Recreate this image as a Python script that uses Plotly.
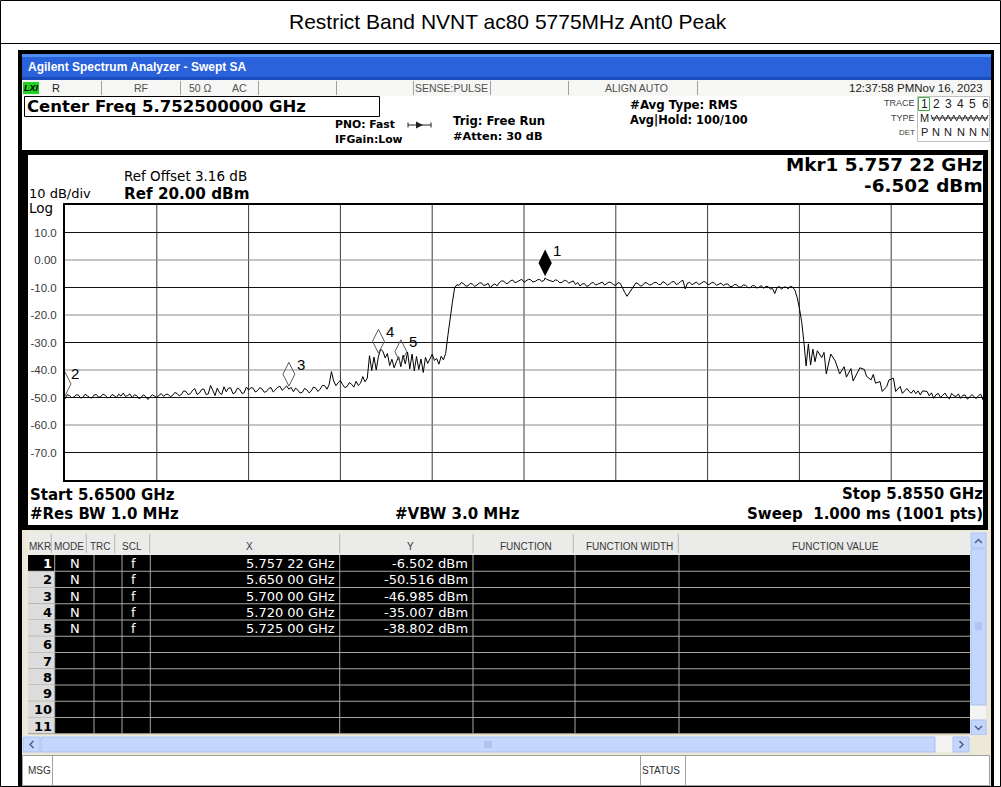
import plotly.graph_objects as go

W, H = 1001, 787

# ---------------- sweep settings ----------------
start_mhz, stop_mhz = 5650.0, 5855.0
ref_level_dbm = 20.0
db_per_div = 10.0
n_div = 10

y_tick_vals = [10, 0, -10, -20, -30, -40, -50, -60, -70]
y_tick_text = ["10.0", "0.00", "-10.0", "-20.0", "-30.0", "-40.0", "-50.0", "-60.0", "-70.0"]

# ---------------- trace 1 (frequency in MHz, level in dBm) ----------------
trace_freq_mhz = [
    5650, 5651, 5652, 5653, 5654, 5655, 5656, 5657, 5658, 5659,
    5660, 5661, 5662, 5663, 5664, 5665, 5666, 5667, 5668, 5668.5,
    5669, 5670, 5671, 5672, 5673, 5674, 5675, 5676, 5677, 5678,
    5679, 5680, 5681, 5682, 5682.5, 5683, 5683.5, 5684, 5685, 5685.5,
    5686, 5687, 5688, 5689, 5690, 5691, 5692, 5693, 5694, 5695,
    5696, 5697, 5698, 5699, 5700, 5701, 5702, 5703, 5704, 5705,
    5706, 5707, 5708, 5709, 5709.5, 5710, 5711, 5712, 5713, 5714,
    5715, 5716, 5716.5, 5717, 5717.5, 5718, 5718.5, 5719, 5719.5, 5720,
    5720.5, 5721, 5721.5, 5722, 5722.5, 5723, 5723.5, 5724, 5724.5, 5725,
    5725.5, 5726, 5726.5, 5727, 5727.5, 5728, 5728.5, 5729, 5729.5, 5730,
    5730.5, 5731, 5731.5, 5732, 5732.5, 5733, 5733.5, 5734, 5734.5, 5735,
    5735.5, 5736, 5736.5, 5737, 5737.5, 5738, 5739, 5740, 5741, 5742,
    5743, 5744, 5745, 5746, 5747, 5748, 5749, 5750, 5751, 5752,
    5753, 5754, 5755, 5756, 5757, 5757.22, 5758, 5759, 5760, 5761,
    5762, 5763, 5764, 5765, 5766, 5767, 5768, 5769, 5770, 5771,
    5772, 5773, 5774, 5774.5, 5775, 5775.5, 5776, 5776.5, 5777, 5778,
    5779, 5780, 5781, 5782, 5783, 5784, 5785, 5786, 5787, 5788,
    5788.5, 5789, 5790, 5791, 5792, 5793, 5794, 5795, 5796, 5797,
    5798, 5799, 5800, 5801, 5802, 5803, 5804, 5805, 5806, 5807,
    5808, 5808.5, 5809, 5810, 5811, 5812, 5812.5, 5813, 5813.5, 5814,
    5814.5, 5815, 5815.5, 5816, 5816.5, 5817, 5817.5, 5818, 5819, 5819.5,
    5820, 5821, 5821.5, 5822, 5823, 5824, 5824.5, 5825.5, 5826, 5827,
    5827.5, 5828.5, 5829, 5830, 5830.5, 5831, 5832, 5832.5, 5833.5, 5834,
    5835, 5835.5, 5836.5, 5837, 5838, 5838.5, 5839.5, 5840, 5841, 5841.5,
    5842.5, 5843, 5844, 5845, 5846, 5847, 5848, 5849, 5850, 5851,
    5852, 5853, 5854, 5855,
]
trace_level_dbm = [
    -50.5, -49.3, -49.8, -49.1, -49.9, -49.4, -50.2, -48.9, -49.6, -49.2,
    -50.0, -49.4, -48.8, -48.4, -49.3, -50.1, -49.3, -50.0, -49.6, -50.7,
    -49.8, -49.5, -49.2, -49.6, -48.8, -49.3, -48.5, -48.9, -47.8, -48.6,
    -46.8, -48.4, -46.9, -48.7, -45.6, -47.4, -49.3, -46.6, -48.9, -46.1,
    -47.9, -46.5, -48.2, -47.0, -48.3, -47.3, -46.6, -47.5, -46.9, -47.8,
    -46.4, -47.2, -45.9, -46.6, -46.985, -47.9, -47.3, -48.1, -47.2, -47.6,
    -46.6, -46.9, -45.7, -45.2, -40.6, -44.0, -44.6, -45.3, -46.0, -45.2,
    -44.1, -44.8, -42.4, -44.3, -43.0, -34.8, -40.2, -35.3, -40.0, -35.007,
    -32.4, -33.2, -35.6, -34.0, -38.4, -36.1, -39.2, -37.0, -35.2, -38.802,
    -34.6, -37.8, -33.5, -39.6, -34.2, -40.3, -35.1, -39.8, -36.0, -40.9,
    -35.4, -37.6, -36.2, -34.3, -36.5, -35.8, -37.9, -35.0, -36.3, -34.0,
    -27.5, -21.0, -15.5, -10.2, -9.0, -9.2, -8.6, -9.4, -8.8, -9.1,
    -8.3, -9.0, -10.2, -8.7, -8.2, -7.7, -8.4, -7.3, -7.9, -7.0,
    -7.7, -7.2, -7.8, -7.1, -7.4, -6.502, -7.3, -7.9, -7.5, -8.1,
    -7.6, -8.0, -8.9, -9.5, -8.6, -9.3, -8.2, -8.8, -8.0, -8.7,
    -8.3, -9.2, -8.5, -10.5, -11.8, -13.2, -12.0, -10.4, -9.3, -8.6,
    -9.2, -8.4, -8.9, -8.1, -9.0, -8.3, -8.7, -7.8, -8.6, -7.4,
    -10.5, -8.4, -9.0, -8.0, -8.6, -7.9, -8.8, -8.4, -8.9, -9.3,
    -8.7, -9.6, -9.0, -9.8, -9.2, -10.1, -9.4, -9.9, -10.3, -9.7,
    -10.4, -12.2, -10.1, -10.6, -9.8, -9.5, -9.9, -11.0, -13.6, -17.5,
    -22.4, -29.7, -38.5, -30.5, -38.2, -32.4, -37.0, -33.0, -35.5, -33.6,
    -41.4, -34.2, -35.5, -36.7, -41.4, -38.8, -42.6, -39.5, -44.0, -41.0,
    -39.2, -39.8, -42.3, -43.6, -41.6, -44.8, -44.2, -47.8, -46.0, -43.6,
    -43.0, -47.8, -46.0, -48.5, -46.7, -47.8, -47.3, -48.6, -49.1, -47.6,
    -47.8, -49.4, -50.3, -48.5, -49.2, -49.7, -48.5, -49.6, -50.3, -49.1,
    -49.9, -49.7, -49.3, -50.9,
]

# finer readings between the whole-MHz points (noise floor, flat top, upper tail)
half_step_freq_mhz = [
    5650.5, 5651.5, 5652.5, 5653.5, 5654.5, 5655.5, 5656.5, 5657.5, 5658.5, 5659.5,
    5660.5, 5661.5, 5662.5, 5663.5, 5664.5, 5665.5, 5666.5, 5667.5, 5669.5, 5670.5,
    5671.5, 5672.5, 5673.5, 5674.5, 5675.5, 5676.5, 5677.5, 5678.5, 5679.5, 5680.5,
    5681.5, 5684.5, 5686.5, 5687.5, 5688.5, 5689.5, 5690.5, 5691.5, 5692.5, 5693.5,
    5694.5, 5695.5, 5696.5, 5697.5, 5698.5, 5699.5, 5700.5, 5701.5, 5702.5, 5703.5,
    5704.5, 5705.5, 5706.5, 5707.5, 5708.5, 5710.5, 5711.5, 5712.5, 5713.5, 5714.5,
    5715.5,
    5738.5, 5739.5, 5740.5, 5741.5, 5742.5, 5743.5, 5744.5, 5745.5, 5746.5, 5747.5,
    5748.5, 5749.5, 5750.5, 5751.5, 5752.5, 5753.5, 5754.5, 5755.5, 5756.5, 5757.5,
    5758.5, 5759.5, 5760.5, 5761.5, 5762.5, 5763.5, 5764.5, 5765.5, 5766.5, 5767.5,
    5768.5, 5769.5, 5770.5, 5771.5, 5772.5, 5773.5, 5777.5, 5778.5, 5779.5, 5780.5,
    5781.5, 5782.5, 5783.5, 5784.5, 5785.5, 5786.5, 5787.5, 5789.5, 5790.5, 5791.5,
    5792.5, 5793.5, 5794.5, 5795.5, 5796.5, 5797.5, 5798.5, 5799.5, 5800.5, 5801.5,
    5802.5, 5803.5, 5804.5, 5805.5, 5806.5, 5807.5, 5809.5, 5810.5, 5811.5,
    5839, 5840.5, 5843.5, 5844.5, 5845.5, 5846.5, 5847.5, 5848.5, 5849.5, 5850.5,
    5851.5, 5852.5, 5853.5, 5854.5,
]
half_step_level_dbm = [
    -49.0, -50.1, -49.0, -50.2, -48.8, -50.0, -49.1, -49.9, -48.8, -50.1,
    -48.9, -50.0, -49.5, -49.6, -48.7, -49.0, -50.4, -49.0, -49.0, -50.0,
    -48.6, -48.9, -49.7, -48.2, -49.4, -47.6, -49.0, -47.4, -48.9, -47.1,
    -48.9, -48.3, -46.6, -48.6, -46.6, -48.5, -46.2, -46.4, -48.0, -46.4,
    -48.1, -46.7, -48.0, -46.3, -47.4, -45.8, -46.3, -46.6, -48.4, -46.7,
    -48.3, -46.2, -47.8, -45.6, -47.0, -45.7, -43.8, -46.4, -44.6, -46.2,
    -45.6,
    -8.2, -9.5, -8.5, -9.6, -8.4, -9.3, -8.5, -9.1, -9.4, -7.6,
    -8.6, -7.5, -8.3, -7.3, -8.1, -7.0, -8.0, -7.2, -7.8, -7.0,
    -7.8, -7.2, -8.3, -7.4, -8.4, -7.6, -8.2, -8.7, -9.6, -8.4,
    -9.1, -8.3, -9.1, -8.0, -9.0, -8.2, -8.3, -9.5, -8.2, -9.1,
    -8.3, -8.8, -7.9, -9.1, -8.0, -8.9, -7.8, -8.1, -8.6, -8.9,
    -7.9, -8.9, -8.1, -9.2, -8.4, -8.8, -9.7, -8.9, -9.9, -9.1,
    -10.0, -9.3, -10.2, -9.3, -9.6, -10.5, -9.6, -9.9, -10.5,
    -48.4, -47.6, -48.3, -49.0, -50.0, -48.4, -50.5, -49.4, -48.7, -49.2,
    -50.6, -48.9, -50.4, -48.8,
]

# ---------------- marker table ----------------
marker_ids = [1, 2, 3, 4, 5]
marker_freq_ghz = [5.75722, 5.65000, 5.70000, 5.72000, 5.72500]
marker_level_dbm = [-6.502, -50.516, -46.985, -35.007, -38.802]
table_rows = 11

# ---------------- screen geometry (pixels) ----------------
GRID_L, GRID_R, GRID_T, GRID_B = 65, 983, 205, 480
SANS = "Liberation Sans, Arial, sans-serif"
DV = "DejaVu Sans, Verdana, sans-serif"


def X(px):
    return px / W


def Y(py):
    return 1 - py / H


shapes, notes = [], []


def rect(x0, y0, x1, y1, fill=None, line=None, lw=1):
    shapes.append(dict(type="rect", xref="paper", yref="paper",
                       x0=X(x0), x1=X(x1), y0=Y(y1), y1=Y(y0),
                       fillcolor=fill or "rgba(0,0,0,0)",
                       line=dict(color=line or "rgba(0,0,0,0)", width=lw if line else 0),
                       layer="below"))


def seg(x0, y0, x1, y1, color="black", lw=1):
    shapes.append(dict(type="line", xref="paper", yref="paper",
                       x0=X(x0), x1=X(x1), y0=Y(y0), y1=Y(y1),
                       line=dict(color=color, width=lw), layer="below"))


def poly(pts, fill=None, line=None, lw=1, closed=True):
    d = "M" + " L".join(f"{X(a):.6f},{Y(b):.6f}" for a, b in pts) + (" Z" if closed else "")
    shapes.append(dict(type="path", xref="paper", yref="paper", path=d,
                       fillcolor=fill or "rgba(0,0,0,0)",
                       line=dict(color=line or "rgba(0,0,0,0)", width=lw if line else 0),
                       layer="below"))


def text(x, y, s, size, color="black", anchor="left", family=SANS, weight="normal", style="normal"):
    notes.append(dict(xref="paper", yref="paper", x=X(x), y=Y(y), text=s, showarrow=False,
                      xanchor=anchor, yanchor="middle", borderpad=0, borderwidth=0,
                      font=dict(family=family, size=size, color=color, weight=weight, style=style)))


def fmt_ghz(g):
    s = f"{g:.5f}"
    return s[:5] + " " + s[5:] + " GHz"


def fmt_dbm(v):
    return f"{v:.3f} dBm"


NB = "\u00a0"

# ---------------- page frame and heading ----------------
rect(0.5, 0.5, 1000.5, 786.5, line="black")
seg(0, 43.5, 1001, 43.5)
text(508, 21, "Restrict Band NVNT ac80 5775MHz Ant0 Peak", 21, anchor="center")

# ---------------- analyzer window ----------------
rect(18, 50, 994, 787, fill="#000000")
rect(22, 54, 991, 786, fill="#ece9d8")
rect(22, 54, 991, 80, fill="#2a62dc")
rect(22, 54, 991, 57, fill="#4f90f5")
rect(22, 77, 991, 80, fill="#1a4cbc")
text(28, 67, "Agilent Spectrum Analyzer - Swept SA", 12, "white", weight="bold")

# status line
rect(22, 80, 990, 96, fill="#f6f6f4")
for xs in [101, 180, 258, 336, 413, 490, 568, 697]:
    seg(xs + 0.5, 81, xs + 0.5, 95, "#a0a0a0")
rect(23, 82, 39, 94, fill="#22d022")
text(31, 88, "LXI", 9, "black", anchor="center", weight="bold", style="italic")
text(52, 88, "R", 11, "#202020")
text(141, 88, "RF", 10.5, "#505050", anchor="center")
text(189, 88, "50 Ω", 10.5, "#505050")
text(232, 88, "AC", 10.5, "#505050")
text(415, 88, "SENSE:PULSE", 10.5, "#505050")
text(636, 88, "ALIGN AUTO", 10.5, "#505050", anchor="center")
text(983, 88, "12:37:58 PMNov 16, 2023", 11.5, "#202020", anchor="right")

# settings line
rect(22, 96, 990, 150, fill="white")
rect(24.5, 96.5, 379.5, 116.5, fill="white", line="black")
text(27, 106.5, f"Center Freq {(start_mhz + stop_mhz) / 2000:.9f} GHz", 16.5, weight="bold", family=DV)
text(335, 125, "PNO: Fast", 10.8, weight="bold", family=DV)
text(335, 140, "IFGain:Low", 10.8, weight="bold", family=DV)
seg(408, 125, 431, 125, "#202020")
seg(408, 122.5, 408, 127.5, "#202020")
seg(431, 122.5, 431, 127.5, "#202020")
poly([(416, 121.5), (423, 125), (416, 128.5)], fill="#202020")
text(453, 121, "Trig: Free Run", 11.7, weight="bold", family=DV)
text(453, 137, "#Atten: 30 dB", 11.3, weight="bold", family=DV)
text(630, 105, "#Avg Type: RMS", 11.8, weight="bold", family=DV)
text(630, 120, "Avg|Hold: 100/100", 11.4, weight="bold", family=DV)

# trace status block
rect(917.5, 96.5, 989.5, 141.5, fill="white", line="#c0c0c0")
text(915, 103, "TRACE", 9, "#404040", anchor="right")
text(915, 118, "TYPE", 9, "#404040", anchor="right")
text(915, 132, "DET", 8, "#404040", anchor="right")
rect(918.5, 97.5, 929.5, 110.5, line="#40b040")
for i, lab in enumerate(["1", "2", "3", "4", "5", "6"]):
    text(924 + i * 12.2, 104, lab, 12, "#202020", anchor="center")
text(924, 118, "M", 11, "#202020", anchor="center")
zz = [(931 + k * 2.85, 115 if k % 2 == 0 else 121) for k in range(21)]
poly(zz, line="#303030", lw=1, closed=False)
seg(931, 118, 988, 118, "#303030")
for i, lab in enumerate(["P", "N", "N", "N", "N", "N"]):
    text(924 + i * 12.2, 132, lab, 11, "#202020", anchor="center")

# ---------------- graticule panel ----------------
rect(22, 150, 988, 530, fill="#000000")
rect(28, 155, 983, 525, fill="white")

m1_f, m1_v = marker_freq_ghz[0], marker_level_dbm[0]
text(124, 176, "Ref Offset 3.16 dB", 13.5, family=DV)
text(124, 193.5, f"Ref {ref_level_dbm:.2f} dBm", 15.2, weight="bold", family=DV)
text(29, 194, f"{db_per_div:.0f} dB/div", 13, family=DV)
text(29, 208, "Log", 13.5, family=DV)
text(983, 165, f"Mkr1 {fmt_ghz(m1_f)}", 18.4, weight="bold", family=DV, anchor="right")
text(983, 185, fmt_dbm(m1_v), 18.4, weight="bold", family=DV, anchor="right")

text(29.5, 495, f"Start {start_mhz / 1000:.4f} GHz", 15, weight="bold", family=DV)
text(29.5, 513.5, "#Res BW 1.0 MHz", 15, weight="bold", family=DV)
text(520, 513.5, "#VBW 3.0 MHz", 15, weight="bold", family=DV, anchor="right")
text(983, 494, f"Stop {stop_mhz / 1000:.4f} GHz", 15, weight="bold", family=DV, anchor="right")
text(983, 513.5, f"Sweep{NB}{NB}1.000 ms (1001 pts)", 15, weight="bold", family=DV, anchor="right")

# ---------------- marker table ----------------
rect(28, 532, 970, 555, fill="#ebebea")
for xs in [51.3, 86.3, 114.7, 149.7, 339.7, 473, 573.3, 678.3]:
    seg(xs, 534, xs, 553, "#b4b4b4")
hdr = [(40, "MKR"), (68.5, "MODE"), (100.5, "TRC"), (132, "SCL"), (249.7, "X"), (410.7, "Y"),
       (526, "FUNCTION"), (629, "FUNCTION WIDTH"), (835, "FUNCTION VALUE")]
for hx, hs in hdr:
    text(hx, 546, hs, 10, "#383838", anchor="center")

ROW_T, ROW_H = 555, 16.25
rect(28, ROW_T, 970, ROW_T + table_rows * ROW_H, fill="#000000")
for k in range(table_rows):
    top = ROW_T + k * ROW_H
    if k > 0:
        rect(28, top, 54.7, top + ROW_H, fill="#dcdcdc")
    seg(28, top + ROW_H, 970, top + ROW_H, "#a8a8a0")
    num_col = "white" if k == 0 else "black"
    text(51.5, top + ROW_H / 2 + 0.5, str(k + 1), 13, num_col, anchor="right", family=DV, weight="bold")
for xs in [54.7, 94, 122, 150.3, 339.7, 473, 575, 679]:
    seg(xs, ROW_T, xs, ROW_T + table_rows * ROW_H, "#a8a8a0")
for k, (mid, fg, lv) in enumerate(zip(marker_ids, marker_freq_ghz, marker_level_dbm)):
    cy = ROW_T + k * ROW_H + ROW_H / 2 + 0.5
    text(74.5, cy, "N", 13, "white", anchor="center", family=DV)
    text(133, cy, "f", 13, "white", anchor="center", family=DV)
    text(335, cy, fmt_ghz(fg), 13, "white", anchor="right", family=DV)
    text(468, cy, fmt_dbm(lv), 13, "white", anchor="right", family=DV)

# vertical scroll bar
rect(970, 532, 986, 735, fill="#f4f4f2")
rect(971, 533, 986, 548, fill="#c4d6fc", line="#a8c0f0")
rect(971, 549, 986, 705, fill="#c4d6fc", line="#a8c0f0")
rect(971, 720, 986, 735, fill="#c4d6fc", line="#a8c0f0")
poly([(975, 543), (978.5, 539.5), (982, 543)], line="#4d6185", lw=1.5, closed=False)
poly([(975, 726), (978.5, 729.5), (982, 726)], line="#4d6185", lw=1.5, closed=False)
for yy in [623, 625, 627, 629]:
    seg(975, yy, 982, yy, "#9ab2e6")

# horizontal scroll bar
rect(22, 735, 990, 753, fill="#ece9d8")
rect(22, 736, 970, 752, fill="#f4f4f2")
rect(23, 737, 40, 752, fill="#c4d6fc", line="#a8c0f0")
rect(41, 737, 935, 752, fill="#c4d6fc", line="#a8c0f0")
rect(953, 737, 969, 752, fill="#c4d6fc", line="#a8c0f0")
poly([(33.5, 741), (30, 744.5), (33.5, 748)], line="#4d6185", lw=1.5, closed=False)
poly([(959.5, 741), (963, 744.5), (959.5, 748)], line="#4d6185", lw=1.5, closed=False)
for xx in [485, 487, 489, 491]:
    seg(xx, 741, xx, 748, "#9ab2e6")

# message bar
rect(22.5, 755.5, 989.5, 785.5, fill="white", line="#a0a0a0")
for xs in [52.5, 640.5, 685.5]:
    seg(xs, 756, xs, 785, "#a0a0a0")
text(28, 770, "MSG", 10, "#303030")
text(642, 770, "STATUS", 10, "#303030")

# ---------------- graticule lines ----------------
span = stop_mhz - start_mhz
for i in range(1, n_div):
    fx = start_mhz + i * span / n_div
    shapes.append(dict(type="line", xref="x", yref="y domain", x0=fx, x1=fx, y0=0, y1=1,
                       line=dict(color="#3c3c3c", width=1), layer="below"))
for i in range(1, n_div):
    lv = ref_level_dbm - i * db_per_div
    col = "#8a8a8a" if i % 2 == 0 else "#111111"
    shapes.append(dict(type="line", xref="x domain", yref="y", x0=0, x1=1, y0=lv, y1=lv,
                       line=dict(color=col, width=1), layer="below"))

# ---------------- figure ----------------
trace_pts = sorted(zip(trace_freq_mhz + half_step_freq_mhz, trace_level_dbm + half_step_level_dbm))
fig = go.Figure()
fig.add_trace(go.Scatter(x=[p[0] for p in trace_pts], y=[p[1] for p in trace_pts], mode="lines",
                         line=dict(color="black", width=1), hoverinfo="skip"))

px_per_db = (GRID_B - GRID_T) / (db_per_div * n_div)
lift_db = 15 / px_per_db
mk_f = [g * 1000 for g in marker_freq_ghz]
fig.add_trace(go.Scatter(x=mk_f[:1], y=[marker_level_dbm[0] + lift_db], mode="markers",
                         marker=dict(symbol="diamond-tall", size=19, color="black"),
                         hoverinfo="skip"))
fig.add_trace(go.Scatter(x=mk_f[1:], y=[v + lift_db for v in marker_level_dbm[1:]], mode="markers",
                         marker=dict(symbol="diamond-tall-open", size=17, color="#5a5a5a",
                                     line=dict(width=1, color="#5a5a5a")),
                         hoverinfo="skip"))
for mid, f, v in zip(marker_ids, mk_f, marker_level_dbm):
    notes.append(dict(xref="x", yref="y", x=f, y=v, text=str(mid), showarrow=False,
                      xanchor="left", yanchor="middle", xshift=7 if mid != 2 else 5,
                      yshift=27 if mid == 1 else 25, borderpad=0,
                      font=dict(family=SANS, size=15, color="black")))

fig.update_layout(
    width=W, height=H, margin=dict(l=0, r=0, t=0, b=0),
    paper_bgcolor="white", plot_bgcolor="white", showlegend=False,
    shapes=shapes, annotations=notes,
    xaxis=dict(domain=[X(GRID_L), X(GRID_R)], range=[start_mhz, stop_mhz],
               showgrid=False, zeroline=False, showticklabels=False, ticks="",
               showline=True, linecolor="black", linewidth=2, mirror=True),
    yaxis=dict(domain=[Y(GRID_B), Y(GRID_T)], range=[ref_level_dbm - n_div * db_per_div, ref_level_dbm],
               tickvals=y_tick_vals, ticktext=y_tick_text, showgrid=False, zeroline=False, ticks="",
               tickfont=dict(family=SANS, size=11.5, color="#3a3a3a"), ticklabelstandoff=4,
               showline=True, linecolor="black", linewidth=2, mirror=True),
)

fig.write_html("out.html", config={"displayModeBar": False})
